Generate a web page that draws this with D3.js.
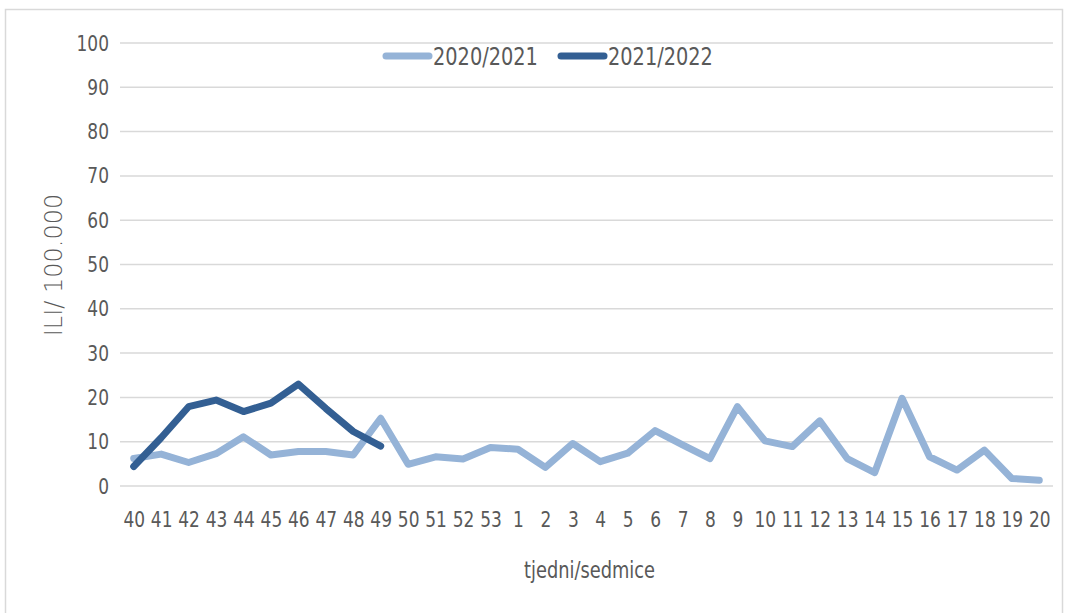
<!doctype html>
<html>
<head>
<meta charset="utf-8">
<title>ILI</title>
<script src="https://cdn.jsdelivr.net/npm/d3@7"></script>
<style>
  body { margin: 0; background: #fff; }
  text { fill: #595959; }
</style>
</head>
<body>
<svg id="chart" width="1067" height="613"></svg>
<script>
// weeks (tjedni/sedmice)
const weeks = ["40","41","42","43","44","45","46","47","48","49","50","51","52","53",
  "1","2","3","4","5","6","7","8","9","10","11","12","13","14","15","16","17","18","19","20"];

const season2021 = [6.2, 7.2, 5.3, 7.3, 11.1, 7.0, 7.8, 7.8, 7.0, 15.3, 4.9, 6.6, 6.1, 8.7,
  8.3, 4.2, 9.6, 5.5, 7.4, 12.5, 9.3, 6.2, 17.9, 10.2, 8.9, 14.7, 6.2, 3.0, 19.8, 6.6, 3.6, 8.1, 1.7, 1.3];

const season2122 = [4.4, 10.9, 17.9, 19.4, 16.8, 18.7, 23.0, 17.5, 12.3, 9.0];

const yTicks = [0, 10, 20, 30, 40, 50, 60, 70, 80, 90, 100];

const series = [
  { name: "2020/2021", values: season2021, color: "#95b3d7" },
  { name: "2021/2022", values: season2122, color: "#335f93" }
];

const svg = d3.select("#chart");
const narrow = "'DejaVu Sans Condensed', 'Liberation Sans Narrow', sans-serif";
const squeeze = "scale(0.86,1)"; // reference font is a tall, narrow face

// outer frame
svg.append("rect")
  .attr("x", 5.5).attr("y", 9.5)
  .attr("width", 1057).attr("height", 620)
  .attr("fill", "none").attr("stroke", "#d9d9d9").attr("stroke-width", 1.5);

const plotL = 120, plotR = 1053, plotT = 43, plotB = 486;

const x = d3.scalePoint().domain(weeks).range([plotL, plotR]).padding(0.5);
const y = d3.scaleLinear().domain([0, 100]).range([plotB, plotT]);

// gridlines
svg.append("g")
  .selectAll("line")
  .data(yTicks)
  .join("line")
  .attr("x1", plotL).attr("x2", plotR)
  .attr("y1", d => y(d)).attr("y2", d => y(d))
  .attr("stroke", "#d9d9d9").attr("stroke-width", 1.5);

// y axis labels
const yAxis = svg.append("g")
  .attr("transform", `translate(${plotL - 11},0)`)
  .call(d3.axisLeft(y).tickValues(yTicks).tickSize(0).tickPadding(0));
yAxis.select(".domain").remove();
yAxis.selectAll("text")
  .attr("font-family", narrow).attr("font-size", 22).attr("fill", "#595959")
  .attr("transform", squeeze);

// x axis labels
const xAxis = svg.append("g")
  .attr("transform", `translate(0,${plotB + 25})`)
  .call(d3.axisBottom(x).tickSize(0).tickPadding(0));
xAxis.select(".domain").remove();
xAxis.selectAll("text")
  .attr("font-family", narrow).attr("font-size", 22).attr("fill", "#595959")
  .attr("transform", squeeze);

// axis titles
svg.append("text")
  .attr("transform", `translate(${(plotL + plotR) / 2 + 3},578) ${squeeze}`)
  .attr("text-anchor", "middle")
  .attr("font-family", narrow).attr("font-size", 23)
  .text("tjedni/sedmice");

svg.append("text")
  .attr("transform", "translate(62,265) rotate(-90)")
  .attr("text-anchor", "middle")
  .attr("font-family", "'DejaVu Sans', sans-serif").attr("font-size", 24)
  .attr("font-weight", 300)
  .text("ILI/ 100.000");

// lines
const line = d3.line()
  .x((d, i) => x(weeks[i]))
  .y(d => y(d));

svg.append("g")
  .selectAll("path")
  .data(series)
  .join("path")
  .attr("d", d => line(d.values))
  .attr("fill", "none")
  .attr("stroke", d => d.color)
  .attr("stroke-width", 7)
  .attr("stroke-linejoin", "round")
  .attr("stroke-linecap", "round");

// legend
const legendPos = [383, 558];
const legend = svg.append("g")
  .selectAll("g")
  .data(series)
  .join("g")
  .attr("transform", (d, i) => `translate(${legendPos[i]},56)`);
legend.append("line")
  .attr("x1", 3).attr("x2", 46)
  .attr("stroke", d => d.color).attr("stroke-width", 7)
  .attr("stroke-linecap", "round");
legend.append("text")
  .attr("transform", `translate(50,9) ${squeeze}`)
  .attr("font-family", narrow).attr("font-size", 25)
  .text(d => d.name);
</script>
</body>
</html>
